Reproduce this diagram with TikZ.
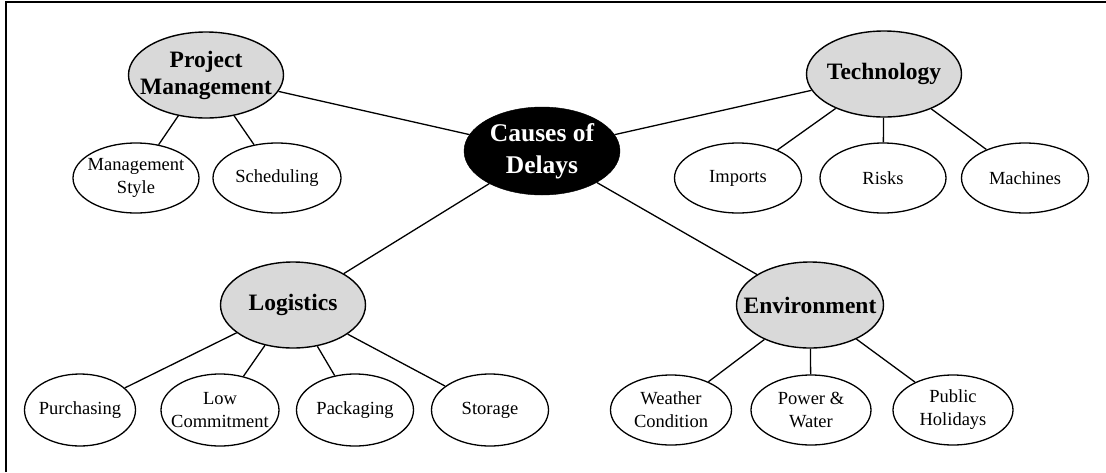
\documentclass[tikz,border=0pt]{standalone}
\usepackage{fontspec}
\setmainfont{Liberation Serif}
\usetikzlibrary{shapes.geometric}
\definecolor{catgray}{HTML}{D9D9D9}
\begin{document}
\begin{tikzpicture}[x=1pt,y=-1pt,
  catnode/.style={ellipse,draw=black,line width=1.4pt,fill=catgray,inner sep=0pt,
    minimum width=#1,minimum height=86pt},
  catnode/.default=155pt,
  cattext/.style={inner sep=0pt,align=center,font=\fontsize{23.5}{27}\selectfont\bfseries},
  leafnode/.style={ellipse,draw=black,line width=1.3pt,fill=white,inner sep=0pt,
    minimum width=#1,minimum height=70pt},
  leafnode/.default=126pt,
  leaftext/.style={inner sep=0pt,align=center,font=\fontsize{18.5}{23}\selectfont},
  link/.style={line width=1.3pt}]
\useasboundingbox (0,0) rectangle (1106,472);
\draw[line width=1.5pt] (6,472) -- (6,2) -- (1106,2);
% shapes
\node[ellipse,draw=black,fill=black,inner sep=0pt,minimum width=156pt,minimum height=88pt] (cd) at (542,151) {};
\node[catnode] (pm) at (206,75) {};
\node[catnode] (te) at (884,74) {};
\node[catnode=145pt] (lo) at (293,305) {};
\node[catnode=147pt] (en) at (810,305) {};
\node[leafnode] (ms) at (136,178) {};
\node[leafnode=128pt] (sc) at (277,178) {};
\node[leafnode=127pt] (im) at (738,178) {};
\node[leafnode] (ri) at (883,178) {};
\node[leafnode=127pt] (ma) at (1025,178) {};
\node[leafnode=111pt,minimum height=72pt] (pu) at (80,410) {};
\node[leafnode=118pt,minimum height=72pt] (lc) at (220,410) {};
\node[leafnode=117pt,minimum height=72pt] (pa) at (355,410) {};
\node[leafnode=117pt,minimum height=72pt] (st) at (490,410) {};
\node[leafnode=121pt] (wc) at (671,410) {};
\node[leafnode=120pt] (pw) at (811,410) {};
\node[leafnode=120pt] (ph) at (953,410) {};
% texts
\node[inner sep=0pt,align=center,text=white,font=\fontsize{25.5}{32}\selectfont\bfseries] (cdt) at (cd) {Causes of\\Delays};
\node[cattext] (pmt) at (pm) {Project\\Management};
\node[cattext] (tet) at (te) {Technology};
\node[cattext] (lot) at (lo) {Logistics};
\node[cattext] (ent) at (en) {Environment};
\node[leaftext] (mst) at (ms) {Management\\Style};
\node[leaftext] (sct) at (sc) {Scheduling};
\node[leaftext] (imt) at (im) {Imports};
\node[leaftext] (rit) at (ri) {Risks};
\node[leaftext] (mat) at (ma) {Machines};
\node[leaftext] (put) at (pu) {Purchasing};
\node[leaftext] (lct) at (lc) {Low\\Commitment};
\node[leaftext] (pat) at (pa) {Packaging};
\node[leaftext] (stt) at (st) {Storage};
\node[leaftext] (wct) at (wc) {Weather\\Condition};
\node[leaftext] (pwt) at (pw) {Power \&\\Water};
\node[leaftext] (pht) at (ph) {Public\\Holidays};
% links
\draw[link] (cd) -- (pm);
\draw[link] (cd) -- (te);
\draw[link] (cd) -- (lo);
\draw[link] (cd) -- (en);
\draw[link] (pm) -- (ms);
\draw[link] (pm) -- (sc);
\draw[link] (te) -- (im);
\draw[link] (te) -- (ri);
\draw[link] (te) -- (ma);
\draw[link] (lo) -- (pu);
\draw[link] (lo) -- (lc);
\draw[link] (lo) -- (pa);
\draw[link] (lo) -- (st);
\draw[link] (en) -- (wc);
\draw[link] (en) -- (pw);
\draw[link] (en) -- (ph);
\end{tikzpicture}
\end{document}
